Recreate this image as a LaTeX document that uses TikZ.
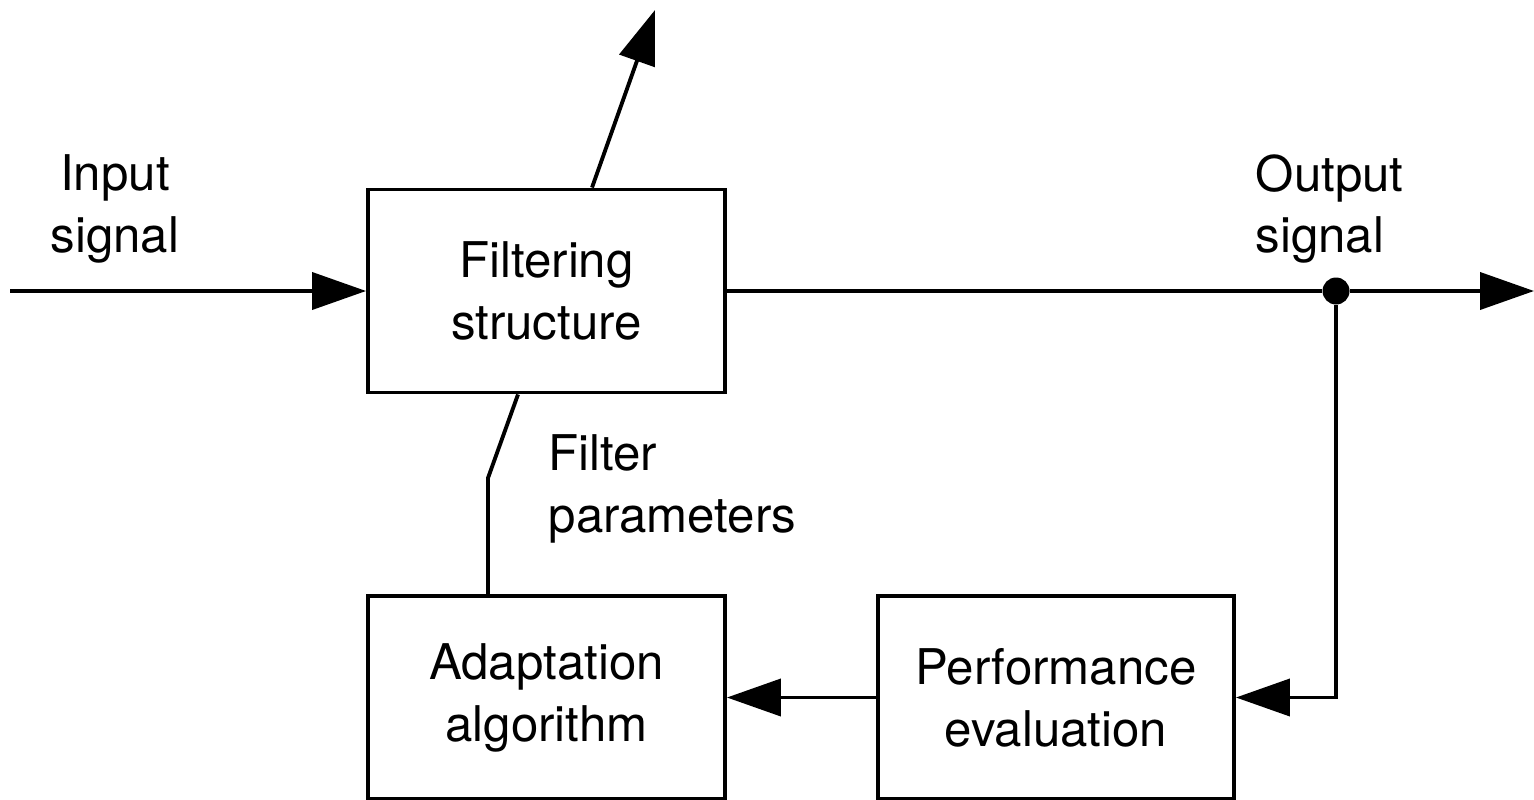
\documentclass[tikz,border=0pt]{standalone}
\usepackage{fontspec}
\setmainfont{TeX Gyre Heros}
\usetikzlibrary{arrows.meta}

\tikzset{
	block/.style={draw,line width=1.1pt,minimum width=3.57cm,minimum height=2.03cm,
		align=center,inner sep=0pt},
	sig/.style={line width=1.1pt,-{Triangle[length=5.4mm,width=3.7mm]}},
	wire/.style={line width=1.1pt},
	lbl/.style={inner sep=0pt}
}

\begin{document}
\begin{tikzpicture}[font=\fontsize{14pt}{17.6pt}\selectfont]
	\useasboundingbox (0,0) rectangle (15.34,7.99);
	% the three blocks
	\path node (filt) at (5.465,5.08) [block] {Filtering\\structure}
	node (adapt) at (5.465,1.015) [block] {Adaptation\\algorithm}
	node (perf) at (10.56,1.015) [block,minimum width=3.56cm] {Performance\\evaluation};
	\coordinate (in) at (0.1,5.08);
	\coordinate (out) at (15.34,5.08);
	\coordinate (up) at (6.55,7.89);
	\coordinate (knee) at (4.88,3.21);
	\node (tap) at (13.36,5.08) [circle,fill=black,inner sep=0pt,minimum size=2.7mm] {};
	% signal path
	\draw[sig] (in) -- (filt.west);
	\draw[wire] (filt.east) -- (tap);
	\draw[sig] (tap) -- (out);
	\draw[sig] (5.92,0 |- filt.north) -- (up);
	% feedback loop
	\draw[sig] (tap) |- (perf.east);
	\draw[sig] (perf.west) -- (adapt.east);
	\draw[wire] (knee |- adapt.north) -- (knee) -- (5.18,0 |- filt.south);
	% labels
	\path node (inlbl) at (1.15,5.9) [lbl,align=center] {Input\\signal}
	node (outlbl) at (12.55,5.9) [lbl,align=left,anchor=west] {Output\\signal}
	node (parlbl) at (5.48,3.1) [lbl,align=left,anchor=west] {Filter\\parameters};
\end{tikzpicture}
\end{document}
